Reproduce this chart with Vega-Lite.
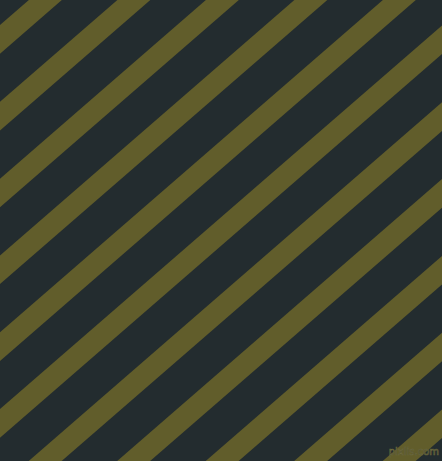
{
  "$schema": "https://vega.github.io/schema/vega-lite/v6.json",
  "width": 442,
  "height": 461,
  "autosize": {"type": "fit", "contains": "padding"},
  "padding": 0,
  "background": "#232c2f",
  "config": {"view": {"stroke": null}},
  "datasets": {
    "stripes": [
      {"stripe": 0, "x": 79.9, "y": -30}, {"stripe": 0, "x": -520.4, "y": 491},
      {"stripe": 1, "x": 168.4, "y": -30}, {"stripe": 1, "x": -431.9, "y": 491},
      {"stripe": 2, "x": 256.9, "y": -30}, {"stripe": 2, "x": -343.4, "y": 491},
      {"stripe": 3, "x": 345.4, "y": -30}, {"stripe": 3, "x": -254.9, "y": 491},
      {"stripe": 4, "x": 433.9, "y": -30}, {"stripe": 4, "x": -166.4, "y": 491},
      {"stripe": 5, "x": 522.4, "y": -30}, {"stripe": 5, "x": -77.9, "y": 491},
      {"stripe": 6, "x": 610.9, "y": -30}, {"stripe": 6, "x": 10.6, "y": 491},
      {"stripe": 7, "x": 699.4, "y": -30}, {"stripe": 7, "x": 99.1, "y": 491},
      {"stripe": 8, "x": 787.9, "y": -30}, {"stripe": 8, "x": 187.6, "y": 491},
      {"stripe": 9, "x": 876.4, "y": -30}, {"stripe": 9, "x": 276.1, "y": 491},
      {"stripe": 10, "x": 964.9, "y": -30}, {"stripe": 10, "x": 364.6, "y": 491}
    ],
    "mark": [
      {"x": 439, "y": 455, "label": "pixlis.com"}
    ]
  },
  "layer": [
    {
      "data": {"name": "stripes"},
      "mark": {"type": "line", "color": "#615d2b", "strokeWidth": 21.6, "strokeCap": "butt", "clip": true},
      "encoding": {
        "x": {"field": "x", "type": "quantitative", "scale": {"domain": [0, 442], "nice": false, "zero": false}, "axis": null},
        "y": {"field": "y", "type": "quantitative", "scale": {"domain": [0, 461], "nice": false, "zero": false, "reverse": true}, "axis": null},
        "detail": {"field": "stripe", "type": "nominal"},
        "order": {"field": "y", "type": "quantitative"}
      }
    },
    {
      "data": {"name": "mark"},
      "mark": {"type": "text", "align": "right", "baseline": "alphabetic", "font": "DejaVu Sans", "fontSize": 10, "color": "#2e3230", "stroke": "#6d6a3c", "strokeWidth": 0.6},
      "encoding": {
        "x": {"field": "x", "type": "quantitative"},
        "y": {"field": "y", "type": "quantitative"},
        "text": {"field": "label"}
      }
    }
  ]
}
